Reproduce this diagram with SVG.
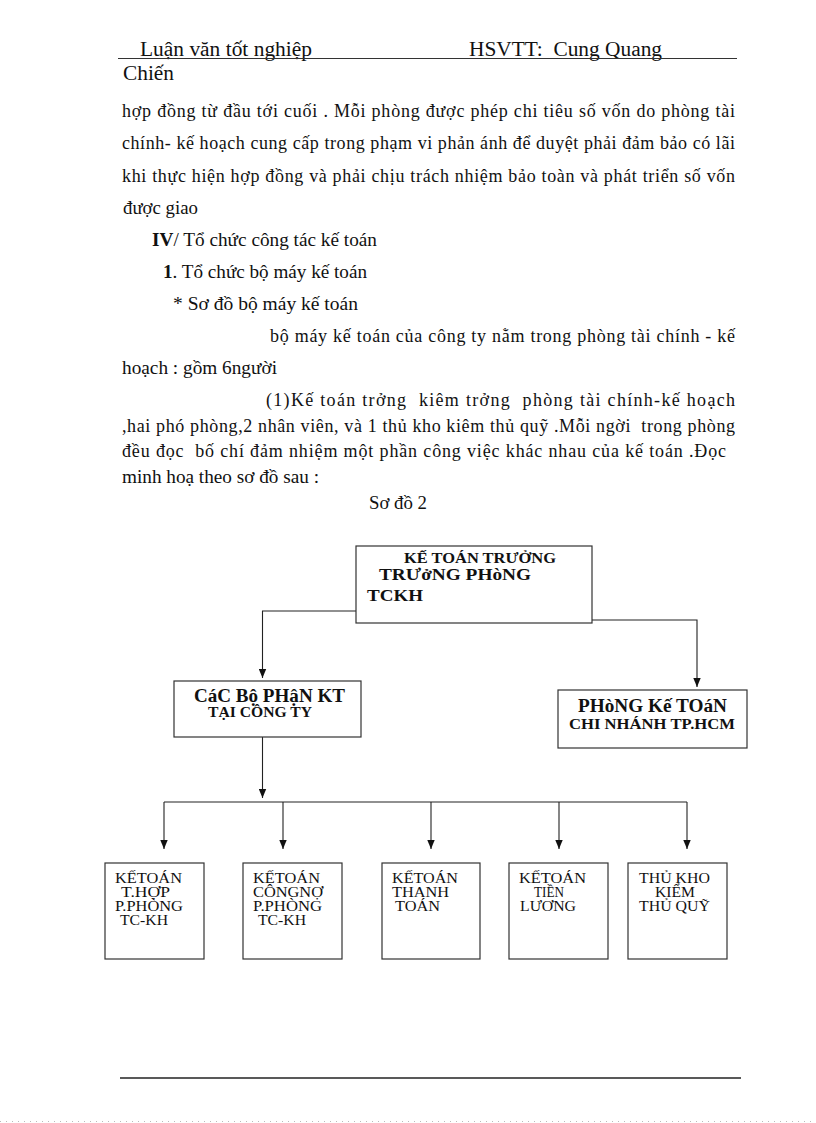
<svg xmlns="http://www.w3.org/2000/svg" width="816" height="1123" viewBox="0 0 816 1123">
<style>
  text { font-family: "Liberation Serif", "Times New Roman", serif; fill: #111; }
  .hd { font-size: 20px; }
  .bd { font-size: 18px; }
  .lb { font-weight: bold; }
  .sm { font-size: 14.5px; }
  .box { fill: #fff; stroke: #333; stroke-width: 1.2; }
  .ln { fill: none; stroke: #222; stroke-width: 1.1; }
</style>
<defs>
  <marker id="ah" markerUnits="userSpaceOnUse" markerWidth="9" markerHeight="8" viewBox="0 0 9 8" refX="9" refY="4" orient="auto">
    <path d="M0,0.3 L9,4 L0,7.7 Z" fill="#111"/>
  </marker>
</defs>
<rect width="816" height="1123" fill="#fff"/>

<!-- header -->
<text class="hd" x="140" y="56" textLength="172" lengthAdjust="spacingAndGlyphs">Luận văn tốt nghiệp</text>
<text class="hd" x="469" y="56" textLength="193" lengthAdjust="spacingAndGlyphs">HSVTT:&#160; Cung Quang</text>
<line x1="118" y1="58.5" x2="737" y2="58.5" stroke="#333" stroke-width="1"/>
<text class="hd" x="123" y="80" textLength="51" lengthAdjust="spacingAndGlyphs">Chiến</text>

<!-- body -->
<text class="bd" x="122" y="117" textLength="613" lengthAdjust="spacing">hợp đồng từ đầu tới cuối . Mỗi phòng được phép chi tiêu số vốn do phòng tài</text>
<text class="bd" x="122" y="149" textLength="613" lengthAdjust="spacing">chính- kế hoạch cung cấp trong phạm vi phản ánh để duyệt phải đảm bảo có lãi</text>
<text class="bd" x="122" y="181.5" textLength="613" lengthAdjust="spacing">khi thực hiện hợp đồng và phải chịu trách nhiệm bảo toàn và phát triển số vốn</text>
<text class="bd" x="123" y="213.5" textLength="75" lengthAdjust="spacingAndGlyphs">được giao</text>
<text class="bd" x="152" y="245.5" textLength="225" lengthAdjust="spacingAndGlyphs"><tspan font-weight="bold">IV</tspan>/ Tổ chức công tác kế toán</text>
<text class="bd" x="163" y="277.5" textLength="204" lengthAdjust="spacingAndGlyphs"><tspan font-weight="bold">1</tspan>. Tổ chức bộ máy kế toán</text>
<text class="bd" x="173" y="310" textLength="185" lengthAdjust="spacingAndGlyphs">* Sơ đồ bộ máy kế toán</text>
<text class="bd" x="270" y="342" textLength="465" lengthAdjust="spacing">bộ máy kế toán của công ty nằm trong phòng tài chính - kế</text>
<text class="bd" x="122" y="374" textLength="155" lengthAdjust="spacingAndGlyphs">hoạch : gồm 6người</text>
<text class="bd" x="266" y="406" textLength="469" lengthAdjust="spacing">(1)Kế toán trởng &#160;kiêm trởng &#160;phòng tài chính-kế hoạch</text>
<text class="bd" x="122" y="432" textLength="613" lengthAdjust="spacing">,hai phó phòng,2 nhân viên, và 1 thủ kho kiêm thủ quỹ .Mỗi ngời &#160;trong phòng</text>
<text class="bd" x="122" y="457" textLength="604" lengthAdjust="spacing">đều đọc &#160;bố chí đảm nhiệm một phần công việc khác nhau của kế toán .Đọc</text>
<text class="bd" x="122" y="483" textLength="197" lengthAdjust="spacingAndGlyphs">minh hoạ theo sơ đồ sau :</text>
<text class="bd" x="369" y="509" textLength="58" lengthAdjust="spacingAndGlyphs">Sơ đồ 2</text>

<!-- connectors -->
<g id="connectors">
  <polyline class="ln" points="356,611 262.5,611 262.5,678" marker-end="url(#ah)"/>
  <polyline class="ln" points="592,620 697,620 697,687" marker-end="url(#ah)"/>
  <polyline class="ln" points="262.5,737 262.5,798" marker-end="url(#ah)"/>
  <polyline class="ln" points="164,802 687,802"/>
  <line class="ln" x1="164" y1="802" x2="164" y2="849" marker-end="url(#ah)"/>
  <line class="ln" x1="283" y1="802" x2="283" y2="849" marker-end="url(#ah)"/>
  <line class="ln" x1="431" y1="802" x2="431" y2="849" marker-end="url(#ah)"/>
  <line class="ln" x1="559" y1="802" x2="559" y2="849" marker-end="url(#ah)"/>
  <line class="ln" x1="687" y1="802" x2="687" y2="849" marker-end="url(#ah)"/>
</g>

<!-- nodes -->
<g id="node-ketoantruong">
  <rect class="box" x="356" y="546" width="236" height="77"/>
  <text class="lb" x="404" y="563" font-size="14" textLength="152" lengthAdjust="spacingAndGlyphs">KẾ TOÁN TRƯỞNG</text>
  <text class="lb" x="379" y="580" font-size="16.5" textLength="152" lengthAdjust="spacingAndGlyphs">TRƯởNG PHòNG</text>
  <text class="lb" x="367" y="601" font-size="17" textLength="56" lengthAdjust="spacingAndGlyphs">TCKH</text>
</g>
<g id="node-cacbophan">
  <rect class="box" x="174" y="681" width="187" height="56"/>
  <text class="lb" x="194" y="702" font-size="18" textLength="151" lengthAdjust="spacingAndGlyphs">CáC Bộ PHậN KT</text>
  <text class="lb" x="208" y="717" font-size="14" textLength="104" lengthAdjust="spacingAndGlyphs">TẠI CÔNG TY</text>
</g>
<g id="node-phongketoan">
  <rect class="box" x="558" y="690" width="189" height="58"/>
  <text class="lb" x="578" y="712" font-size="18" textLength="149" lengthAdjust="spacingAndGlyphs">PHòNG Kế TOáN</text>
  <text class="lb" x="569" y="728.5" font-size="15" textLength="166" lengthAdjust="spacingAndGlyphs">CHI NHÁNH TP.HCM</text>
</g>
<g id="node-th">
  <rect class="box" x="105" y="863" width="99" height="96"/>
  <text class="sm" x="115" y="883" textLength="67" lengthAdjust="spacingAndGlyphs">KẾTOÁN</text>
  <text class="sm" x="121" y="897" textLength="49" lengthAdjust="spacingAndGlyphs">T.HỢP</text>
  <text class="sm" x="115" y="911" textLength="68" lengthAdjust="spacingAndGlyphs">P.PHÒNG</text>
  <text class="sm" x="120" y="925" textLength="48" lengthAdjust="spacingAndGlyphs">TC-KH</text>
</g>
<g id="node-cn">
  <rect class="box" x="243" y="863" width="99" height="96"/>
  <text class="sm" x="253" y="883" textLength="67" lengthAdjust="spacingAndGlyphs">KẾTOÁN</text>
  <text class="sm" x="253" y="897" textLength="70" lengthAdjust="spacingAndGlyphs">CÔNGNỢ</text>
  <text class="sm" x="253" y="911" textLength="69" lengthAdjust="spacingAndGlyphs">P.PHÒNG</text>
  <text class="sm" x="258" y="925" textLength="48" lengthAdjust="spacingAndGlyphs">TC-KH</text>
</g>
<g id="node-tt">
  <rect class="box" x="382" y="863" width="98" height="96"/>
  <text class="sm" x="392" y="883" textLength="66" lengthAdjust="spacingAndGlyphs">KẾTOÁN</text>
  <text class="sm" x="392" y="897" textLength="57" lengthAdjust="spacingAndGlyphs">THANH</text>
  <text class="sm" x="395" y="911" textLength="45" lengthAdjust="spacingAndGlyphs">TOÁN</text>
</g>
<g id="node-tl">
  <rect class="box" x="509" y="863" width="99" height="96"/>
  <text class="sm" x="519" y="883" textLength="67" lengthAdjust="spacingAndGlyphs">KẾTOÁN</text>
  <text class="sm" x="534" y="897" textLength="30" lengthAdjust="spacingAndGlyphs">TIỀN</text>
  <text class="sm" x="520" y="911" textLength="56" lengthAdjust="spacingAndGlyphs">LƯƠNG</text>
</g>
<g id="node-tk">
  <rect class="box" x="628" y="863" width="99" height="96"/>
  <text class="sm" x="639" y="883" textLength="71" lengthAdjust="spacingAndGlyphs">THỦ KHO</text>
  <text class="sm" x="655" y="897" textLength="40" lengthAdjust="spacingAndGlyphs">KIỂM</text>
  <text class="sm" x="639" y="911" textLength="71" lengthAdjust="spacingAndGlyphs">THỦ QUỸ</text>
</g>

<!-- footer -->
<line x1="120" y1="1078" x2="741" y2="1078" stroke="#222" stroke-width="1.5"/>
<line x1="0" y1="1121.5" x2="816" y2="1121.5" stroke="#bbb" stroke-width="1" stroke-dasharray="1 5"/>
</svg>
